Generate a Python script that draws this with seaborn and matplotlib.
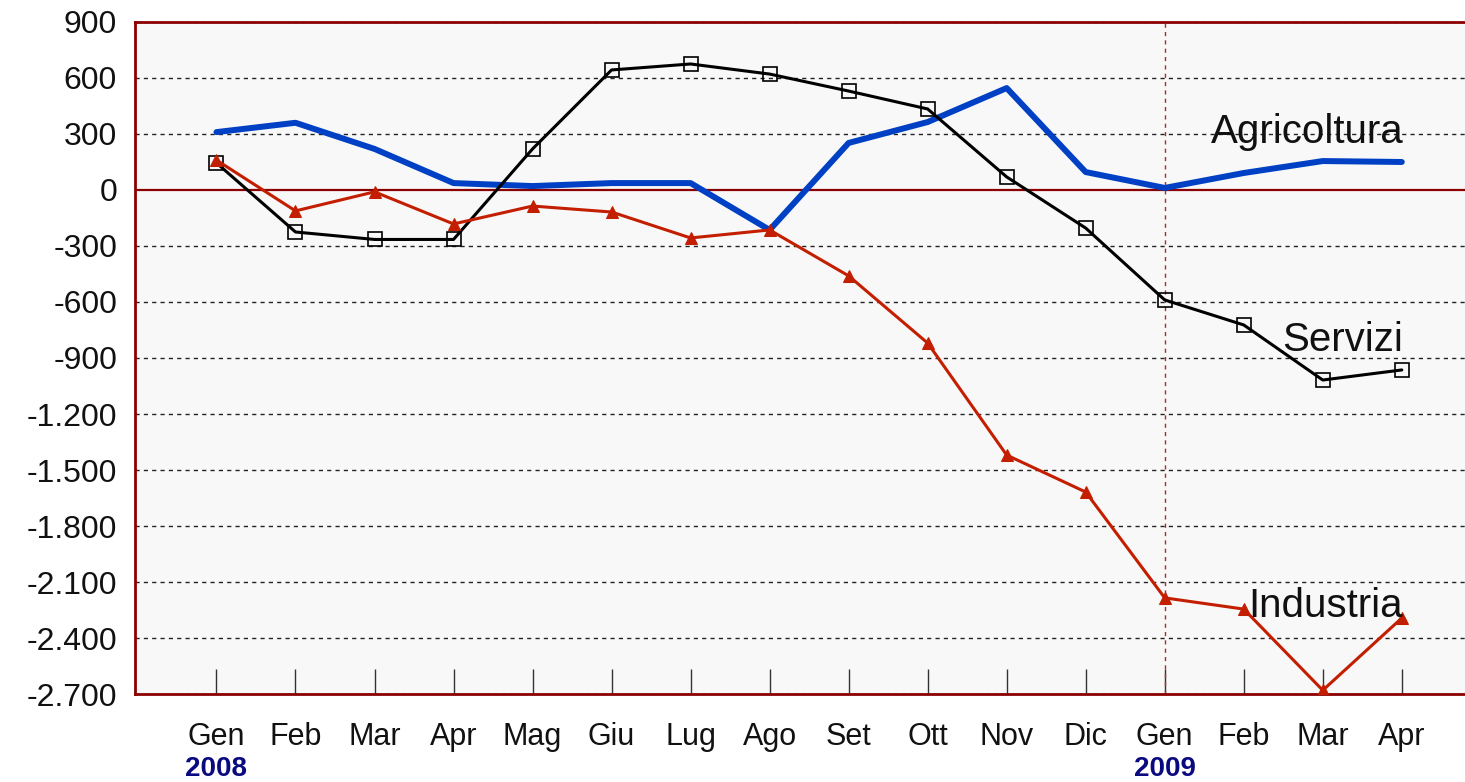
import matplotlib
matplotlib.use("Agg")
import matplotlib.pyplot as plt
import matplotlib.ticker as mticker
import numpy as np
import pandas as pd
import seaborn as sns

months = ['Gen', 'Feb', 'Mar', 'Apr', 'Mag', 'Giu', 'Lug', 'Ago',
          'Set', 'Ott', 'Nov', 'Dic', 'Gen', 'Feb', 'Mar', 'Apr']
years = {0: '2008', 12: '2009'}

agricoltura = [310, 360, 220, 37, 21, 37, 37, -214, 252, 364, 546, 96, 11, 91, 155, 150]
servizi = [145, -225, -265, -265, 220, 643, 675, 621, 530, 434, 70, -204, -589, -723, -1018, -964]
industria = [160, -112, -10, -182, -86, -118, -257, -214, -460, -820, -1420, -1618, -2185, -2245, -2680, -2293]

yticks = list(range(-2700, 901, 300))

sns.set_style("white")
plt.rcParams['font.family'] = ['Liberation Sans', 'DejaVu Sans']
plt.rcParams['text.color'] = '#111111'

fig = plt.figure(figsize=(14.65, 7.82), dpi=100)
ax = fig.add_axes([0.0922, 0.1125, 0.9078, 0.8594])
ax.set_facecolor('#F8F8F8')

x = np.arange(len(months))
dark_red = '#8B0000'

# grid + reference lines
for v in yticks:
    if v != 0:
        ax.axhline(v, color='#222222', ls=(0, (3, 3)), lw=1, zorder=1)
ax.axhline(0, color=dark_red, lw=1.6, zorder=2)
ax.axvline(12, color='#A03030', ls=(0, (3, 3)), lw=1, zorder=2)

sns.lineplot(x=x, y=agricoltura, ax=ax, color='#0040C4', lw=4.3, zorder=3)
sns.lineplot(x=x, y=servizi, ax=ax, color='black', lw=2.2, marker='s', markersize=10,
             markerfacecolor='none', markeredgecolor='black', markeredgewidth=1.2, zorder=4)
sns.lineplot(x=x, y=industria, ax=ax, color='#C41E00', lw=2.2, marker='^', markersize=9,
             markeredgecolor='#C41E00', zorder=5)

ax.text(15.02, 210, 'Agricoltura', fontsize=29, ha='right', va='bottom', zorder=6)
ax.text(15.02, -905, 'Servizi', fontsize=29, ha='right', va='bottom', zorder=6)
ax.text(15.02, -2330, 'Industria', fontsize=29, ha='right', va='bottom', zorder=6)

ax.set_xlim(-1.03, 15.8)
ax.set_ylim(-2700, 900)
ax.set_yticks(yticks)
ax.yaxis.set_major_formatter(mticker.FuncFormatter(lambda v, p: f"{int(v):,}".replace(",", ".")))
ax.set_xticks(x)
ax.set_xticklabels(months)
ax.tick_params(axis='y', length=0, labelsize=23, pad=13, labelcolor='#111111')
ax.tick_params(axis='x', bottom=True, direction='in', length=18, width=1, color='#333333',
               labelsize=22, pad=20, labelcolor='#111111')

for i, yr in years.items():
    ax.text(i, -0.112, yr, transform=ax.get_xaxis_transform(), ha='center', va='center',
            fontsize=20, fontweight='bold', color='#0A0A80')

for s in ax.spines.values():
    s.set_color(dark_red)
    s.set_linewidth(2)
ax.spines['right'].set_visible(False)

fig.savefig('out.png', dpi=100)
